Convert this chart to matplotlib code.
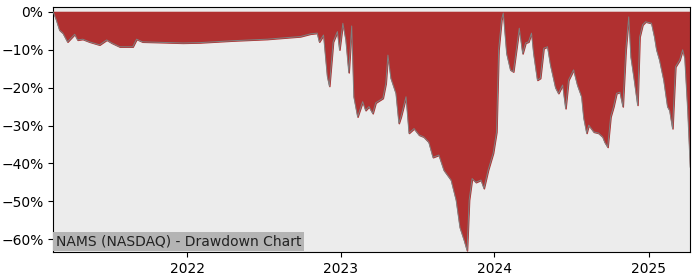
import matplotlib
matplotlib.use("Agg")
import matplotlib.pyplot as plt
import matplotlib.dates as mdates
import matplotlib.ticker as mticker
import pandas as pd

ticker = "NAMS (NASDAQ)"

dates = [
    "2021-02-17", "2021-02-24", "2021-03-04", "2021-03-12", "2021-03-23",
    "2021-04-09", "2021-04-16", "2021-04-28", "2021-05-14", "2021-06-07",
    "2021-06-24", "2021-07-06", "2021-07-25", "2021-08-25", "2021-09-03",
    "2021-09-17", "2021-10-21", "2021-12-22", "2022-02-01", "2022-04-20",
    "2022-07-10", "2022-09-27", "2022-10-21", "2022-11-06", "2022-11-11",
    "2022-11-21", "2022-11-30", "2022-12-05", "2022-12-14", "2022-12-24",
    "2022-12-29", "2023-01-06", "2023-01-13", "2023-01-20", "2023-01-27",
    "2023-02-01", "2023-02-10", "2023-02-22", "2023-03-01", "2023-03-09",
    "2023-03-18", "2023-03-25", "2023-04-11", "2023-04-18", "2023-04-23",
    "2023-04-30", "2023-05-12", "2023-05-19", "2023-05-24", "2023-06-05",
    "2023-06-12", "2023-06-24", "2023-07-06", "2023-07-17", "2023-07-29",
    "2023-08-08", "2023-08-22", "2023-09-03", "2023-09-20", "2023-10-02",
    "2023-10-11", "2023-10-21", "2023-10-28", "2023-11-02", "2023-11-09",
    "2023-11-18", "2023-11-30", "2023-12-07", "2023-12-17", "2023-12-29",
    "2024-01-06", "2024-01-11", "2024-01-18", "2024-01-22", "2024-01-30",
    "2024-02-08", "2024-02-15", "2024-02-22", "2024-02-29", "2024-03-08",
    "2024-03-15", "2024-03-22", "2024-03-29", "2024-04-03", "2024-04-12",
    "2024-04-19", "2024-04-27", "2024-05-06", "2024-05-13", "2024-05-25",
    "2024-06-01", "2024-06-11", "2024-06-18", "2024-06-25", "2024-07-07",
    "2024-07-16", "2024-07-26", "2024-07-31", "2024-08-07", "2024-08-12",
    "2024-08-24", "2024-09-04", "2024-09-14", "2024-09-19", "2024-09-26",
    "2024-10-03", "2024-10-10", "2024-10-17", "2024-10-25", "2024-11-01",
    "2024-11-08", "2024-11-15", "2024-11-20", "2024-11-27", "2024-12-06",
    "2024-12-11", "2024-12-18", "2024-12-25", "2025-01-08", "2025-01-15",
    "2025-01-20", "2025-01-27", "2025-02-06", "2025-02-15", "2025-02-20",
    "2025-02-27", "2025-03-06", "2025-03-16", "2025-03-23", "2025-03-28",
    "2025-04-04", "2025-04-10",
]

# drawdown in percent
drawdown = [
    0.0, -2.0, -4.8, -5.6, -7.9,
    -5.9, -7.4, -7.2, -7.9, -8.7,
    -7.4, -8.2, -9.2, -9.2, -7.2,
    -7.9, -8.0, -8.2, -8.1, -7.6,
    -7.2, -6.5, -5.8, -5.6, -7.9,
    -6.1, -17.0, -19.6, -7.9, -5.2,
    -10.0, -3.0, -7.4, -16.0, -3.7,
    -22.4, -27.7, -23.7, -26.0, -25.0,
    -26.8, -24.0, -22.8, -18.9, -11.4,
    -17.5, -21.5, -29.4, -27.7, -22.4,
    -32.0, -30.8, -32.5, -33.0, -34.4,
    -38.4, -37.8, -41.8, -44.4, -49.7,
    -56.9, -60.3, -63.0, -49.7, -44.0,
    -45.0, -44.4, -46.6, -41.8, -37.3,
    -31.7, -10.0, -2.0, -0.3, -11.0,
    -15.3, -15.8, -10.0, -4.3, -11.0,
    -8.2, -7.9, -5.6, -11.0, -18.0,
    -17.5, -9.6, -9.2, -14.0, -20.0,
    -21.5, -19.3, -25.5, -18.0, -15.3,
    -19.3, -22.4, -28.0, -32.0, -29.9,
    -31.7, -32.0, -33.0, -34.4, -35.7,
    -27.7, -25.0, -21.5, -21.2, -25.0,
    -10.0, -1.3, -11.9, -17.2, -24.6,
    -6.6, -3.4, -2.6, -3.0, -6.6,
    -10.0, -12.7, -18.0, -25.0, -26.0,
    -30.8, -14.5, -12.7, -10.0, -12.2,
    -26.0, -41.0,
]

x = pd.to_datetime(dates)
y = [v / 100 for v in drawdown]

fig = plt.figure(figsize=(7, 2.8), dpi=100)
ax = fig.add_axes([0.076, 0.1, 0.910, 0.875])
ax.set_facecolor("#ececec")

ax.fill_between(x, y, 0, color="#b03030", zorder=2)
ax.plot(x, y, color="#808080", linewidth=0.7, zorder=3)

ax.set_xlim(x[0], x[-1])
ax.set_ylim(min(y) - 0.004, 0.013)

ax.xaxis.set_major_locator(mdates.YearLocator())
ax.xaxis.set_major_formatter(mdates.DateFormatter("%Y"))
ax.yaxis.set_major_locator(mticker.MultipleLocator(0.1))
ax.yaxis.set_major_formatter(mticker.PercentFormatter(1.0, decimals=0))
ax.tick_params(labelsize=10)

ax.text(0.004, 0.015, f"{ticker} - Drawdown Chart", transform=ax.transAxes,
        fontsize=10, color="#222222", va="bottom", ha="left", zorder=5,
        bbox=dict(facecolor="#b4b4b4", edgecolor="none", pad=2))

fig.savefig("out.png", dpi=100)
